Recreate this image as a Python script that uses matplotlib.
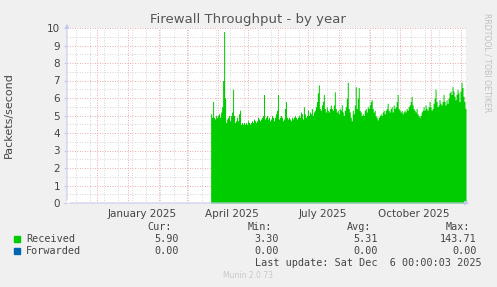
import numpy as np
import pandas as pd
import matplotlib
matplotlib.use("Agg")
import matplotlib.pyplot as plt
import matplotlib.dates as mdates

# Datos (paquetes recibidos por día)
inicio_datos = "2025-03-25"
recibidos = [
    5.1, 4.9, 5.8, 4.9, 4.8, 5.0, 4.9, 5.0, 5.1, 4.9,
    5.2, 5.5, 7.0, 9.8, 6.0, 4.6, 4.8, 4.9, 5.0, 4.7,
    5.0, 5.2, 6.5, 5.0, 4.6, 4.7, 4.9, 4.7, 5.1, 5.3,
    4.5, 4.6, 4.5, 4.6, 4.5, 4.6, 4.5, 4.7, 4.6, 4.5,
    4.6, 4.7, 4.6, 4.8, 4.7, 4.6, 4.7, 4.9, 4.8, 4.7,
    4.8, 4.9, 5.0, 6.2, 4.8, 4.9, 5.0, 4.8, 4.9, 4.7,
    4.8, 5.0, 4.9, 4.7, 4.9, 5.1, 5.3, 6.2, 4.8, 4.9,
    5.0, 4.9, 4.7, 4.8, 5.4, 5.8, 4.9, 4.8, 4.9, 4.8,
    4.7, 4.9, 4.8, 4.9, 5.0, 4.9, 4.8, 4.9, 5.0, 4.9,
    5.2, 5.1, 4.8, 5.5, 5.1, 4.9, 5.0, 5.3, 5.0, 5.2,
    5.1, 5.4, 5.0, 5.2, 5.3, 5.5, 5.8, 6.3, 6.75, 5.4,
    5.3, 5.6, 5.8, 6.2, 5.4, 5.2, 5.5, 5.3, 5.2, 5.4,
    5.6, 5.4, 5.3, 5.6, 6.35, 5.4, 5.2, 5.3, 5.1, 5.4,
    5.3, 5.6, 5.2, 5.0, 5.3, 5.5, 6.0, 6.9, 5.4, 5.2,
    4.9, 4.7, 5.3, 5.1, 5.6, 6.65, 5.4, 6.0, 6.6, 5.3,
    5.2, 5.0, 5.1, 5.0, 5.3, 5.4, 5.2, 5.5, 5.4, 5.6,
    5.8, 5.9, 5.4, 5.2, 5.3, 5.0, 4.9, 4.75, 4.9, 5.0,
    5.1, 5.0, 5.2, 5.3, 5.1, 5.3, 5.4, 5.7, 5.3, 5.2,
    5.4, 5.5, 5.2, 5.6, 5.4, 5.5, 5.8, 6.2, 5.4, 5.3,
    5.2, 5.3, 5.1, 5.2, 5.3, 5.2, 5.4, 5.3, 5.5, 5.6,
    5.8, 6.1, 5.6, 5.4, 5.3, 5.2, 5.4, 5.1, 5.0, 4.9,
    5.0, 5.2, 5.3, 5.5, 5.3, 5.6, 5.4, 5.3, 5.5, 5.8,
    5.5, 5.3, 5.4, 5.7, 6.0, 6.5, 5.8, 5.5, 5.6, 5.9,
    5.7, 5.6, 5.8, 6.2, 5.8, 5.6, 5.9, 5.7, 6.0, 6.3,
    6.4, 6.2, 6.65, 6.4, 6.1, 5.9, 6.2, 6.5, 6.3, 5.8,
    6.4, 6.9, 6.6, 6.1, 5.8, 5.4,
]
reenviados = [0.0] * len(recibidos)

meses_etiqueta = ["2025-01-15", "2025-04-15", "2025-07-15", "2025-10-15"]
textos_etiqueta = ["January 2025", "April 2025", "July 2025", "October 2025"]

series = ["Received", "Forwarded"]
colores = ["#00CC00", "#0066B3"]
cur = ["5.90", "0.00"]
minimo = ["3.30", "0.00"]
promedio = ["5.31", "0.00"]
maximo = ["143.71", "0.00"]

fechas = pd.date_range(inicio_datos, periods=len(recibidos) + 1, freq="D")
x0 = pd.Timestamp("2024-11-01")
x1 = pd.Timestamp("2025-12-06")

W, H = 497, 287
fig = plt.figure(figsize=(W / 100, H / 100), dpi=100, facecolor="#F0F0F0")
ax = fig.add_axes([67 / W, 1 - 203 / H, 399 / W, 175 / H], facecolor="white")

y_ext = np.append(recibidos, recibidos[-1])
ax.fill_between(fechas, 0, y_ext, step="post", color=colores[0], linewidth=0,
                antialiased=False, zorder=2)
ax.step(fechas, np.append(reenviados, 0), where="post", color=colores[1], linewidth=0.6, zorder=2)

ax.set_xlim(x0, x1)
ax.set_ylim(0, 10)

# Rejilla estilo rrdtool
for v in np.arange(0.5, 10, 1.0):
    ax.axhline(v, color="#C8C8C8", linestyle=(0, (1, 2)), linewidth=0.6, zorder=1)
for v in range(1, 11):
    ax.axhline(v, color="#E89090", linestyle=(0, (1, 2)), linewidth=0.6, zorder=1)
for d in pd.date_range("2024-11-10", x1, freq="14D"):
    ax.axvline(d, color="#C8C8C8", linestyle=(0, (1, 2)), linewidth=0.6, zorder=1)
for d in pd.date_range("2024-12-01", x1, freq="MS"):
    ax.axvline(d, color="#E89090", linestyle=(0, (1, 2)), linewidth=0.6, zorder=1)

for s in ax.spines.values():
    s.set_visible(False)

# Ejes con flecha
eje = "#C8C8F0"
ax.annotate("", xy=(0, 1.04), xytext=(0, 0), xycoords="axes fraction",
            arrowprops=dict(arrowstyle="-|>", color=eje, lw=0.8, mutation_scale=6))
ax.annotate("", xy=(1.015, 0), xytext=(0, 0), xycoords="axes fraction",
            arrowprops=dict(arrowstyle="-|>", color=eje, lw=0.8, mutation_scale=6))

ax.set_yticks(range(0, 11))
ax.tick_params(axis="y", length=2, color=eje, labelsize=7.5, labelcolor="#444444", pad=3)
ax.set_xticks(pd.to_datetime(meses_etiqueta))
ax.set_xticklabels(textos_etiqueta)
ax.tick_params(axis="x", length=0, labelsize=7.5, labelcolor="#444444", pad=4)

ax.set_ylabel("Packets/second", fontsize=8, color="#444444", labelpad=24)

fig.text(248 / W, 1 - 19 / H, "Firewall Throughput - by year", ha="center", va="center",
         fontsize=9.5, color="#555555")
fig.text(487 / W, 1 - 63 / H, "RRDTOOL / TOBI OETIKER", ha="center", va="center",
         rotation=270, fontsize=5.6, color="#C0C0C0")

# Leyenda estilo munin
mono = "DejaVu Sans Mono"
fs = 7.3
col = "#444444"
xs = [179, 279, 378, 477]
enc = ["Cur:", "Min:", "Avg:", "Max:"]
for xx, t in zip(xs, enc):
    fig.text((xx - 7) / W, 1 - 227 / H, t, ha="right", va="center", family=mono, fontsize=fs, color=col)
filas_y = [239.5, 251.5]
for i, nombre in enumerate(series):
    yy = 1 - filas_y[i] / H
    fig.patches.append(plt.Rectangle((14 / W, yy - 2.8 / H), 6 / W, 6 / H,
                                     transform=fig.transFigure, color=colores[i]))
    fig.text(26 / W, yy, nombre, ha="left", va="center", family=mono, fontsize=fs, color=col)
    for xx, v in zip(xs, [cur[i], minimo[i], promedio[i], maximo[i]]):
        fig.text(xx / W, yy, v, ha="right", va="center", family=mono, fontsize=fs, color=col)

fig.text(482 / W, 1 - 263 / H, "Last update: Sat Dec  6 00:00:03 2025", ha="right", va="center",
         family=mono, fontsize=fs, color=col)
fig.text(248 / W, 1 - 276 / H, "Munin 2.0.73", ha="center", va="center", fontsize=5.5, color="#C8C8C8")

fig.savefig("out.png", dpi=100, facecolor=fig.get_facecolor())
